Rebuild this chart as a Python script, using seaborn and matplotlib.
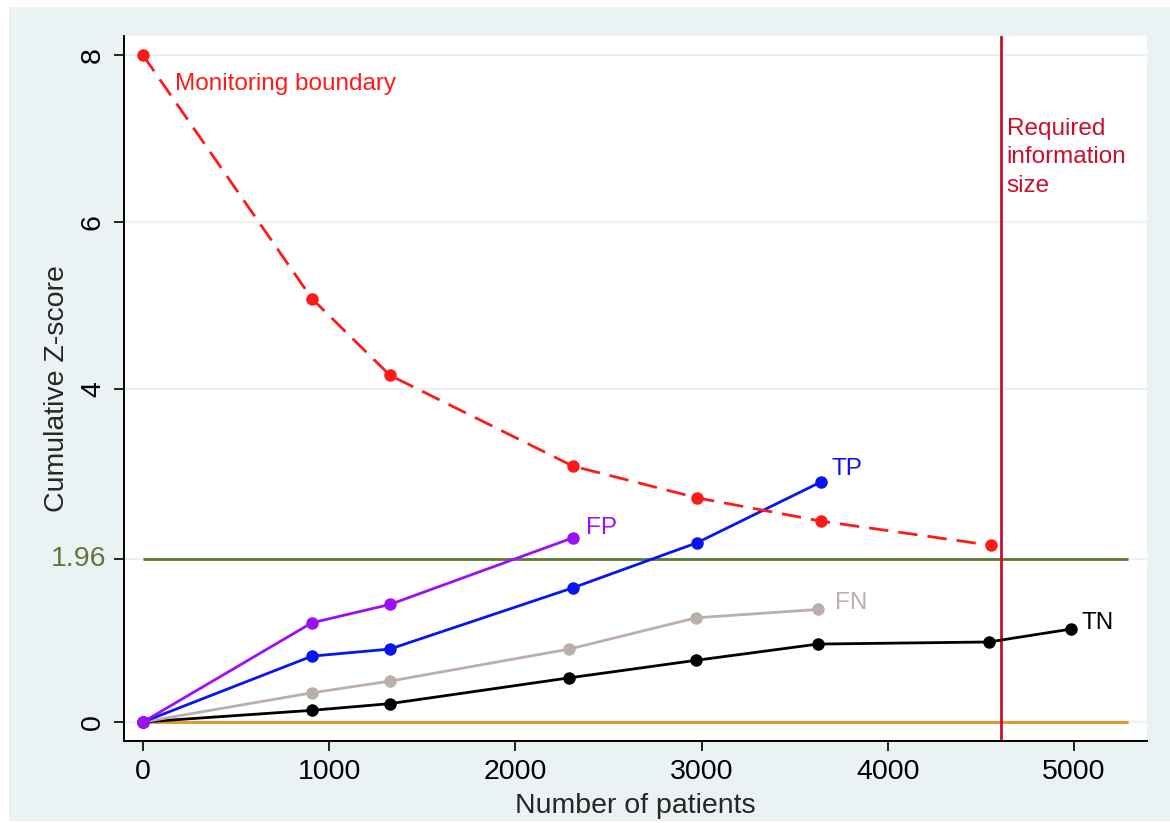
import matplotlib
matplotlib.use("Agg")
import matplotlib.pyplot as plt
import seaborn as sns
import pandas as pd
from matplotlib.patches import Rectangle

# ---- data ----
bound_x = [0, 907, 1326, 2309, 2975, 3641, 4554]
bound_z = [8.0, 5.08, 4.16, 3.07, 2.69, 2.41, 2.12]

tp_x = [0, 907, 1326, 2309, 2975, 3641]
tp_z = [0.0, 0.79, 0.875, 1.61, 2.15, 2.88]

fp_x = [0, 907, 1326, 2309]
fp_z = [0.0, 1.19, 1.41, 2.21]

fn_x = [0, 907, 1326, 2290, 2970, 3625]
fn_z = [0.0, 0.35, 0.49, 0.875, 1.25, 1.35]

tn_x = [0, 907, 1326, 2290, 2970, 3625, 4543, 4984]
tn_z = [0.0, 0.14, 0.22, 0.53, 0.74, 0.935, 0.96, 1.115]

ris_x = 4608          # required information size
sig_z = 1.96
line_end = 5290

xticks = [0, 1000, 2000, 3000, 4000, 5000]
yticks = [0, 1.96, 4, 6, 8]
ytick_labels = ["0", "1.96", "4", "6", "8"]

C_RED = "#FF1A1A"
C_BLUE = "#0A14F0"
C_PURPLE = "#9B10F5"
C_GRAY = "#BDAEAE"
C_BLACK = "#000000"
C_GREEN = "#5B7A3A"
C_ORANGE = "#E8921E"
C_CRIMSON = "#C8102E"
C_BG = "#EAF2F3"

sns.set_theme(style="white")
plt.rcParams["font.family"] = ["Liberation Sans", "DejaVu Sans"]

fig = plt.figure(figsize=(11.7, 8.23), dpi=100)
fig.patch.set_facecolor("white")
fig.patches.append(Rectangle((9 / 1170, 2 / 823), 1 - 9 / 1170, 1 - 9 / 823,
                             transform=fig.transFigure, facecolor=C_BG,
                             edgecolor="none", zorder=-10))
ax = fig.add_axes([124 / 1170, 82 / 823, (1147 - 124) / 1170, (741 - 36) / 823])
ax.set_facecolor("white")

# reference lines
ax.hlines(0, 0, line_end, color=C_ORANGE, lw=2.0, zorder=2)
ax.hlines(sig_z, 0, line_end, color=C_GREEN, lw=2.0, zorder=2)
ax.axvline(ris_x, color=C_CRIMSON, lw=2.0, zorder=2)

def draw(xs, zs, color, dashed=False):
    df = pd.DataFrame({"x": xs, "z": zs})
    sns.lineplot(data=df, x="x", y="z", ax=ax, color=color, lw=2.0,
                 marker="o", markersize=9, markeredgewidth=0,
                 estimator=None, sort=False, zorder=4,
                 linestyle=(0, (7, 3.6)) if dashed else "-")

draw(tn_x, tn_z, C_BLACK)
draw(fn_x, fn_z, C_GRAY)
draw(tp_x, tp_z, C_BLUE)
draw(fp_x, fp_z, C_PURPLE)
draw(bound_x, bound_z, C_RED, dashed=True)

# labels
ax.text(170, 7.66, "Monitoring boundary", color=C_RED, fontsize=17.5, va="center", ha="left")
ax.text(tp_x[-1] + 55, tp_z[-1] + 0.15, "TP", color=C_BLUE, fontsize=17.5, va="center", ha="left")
ax.text(fp_x[-1] + 70, fp_z[-1] + 0.12, "FP", color=C_PURPLE, fontsize=17.5, va="center", ha="left")
ax.text(fn_x[-1] + 90, fn_z[-1] + 0.08, "FN", color=C_GRAY, fontsize=17.5, va="center", ha="left")
ax.text(tn_x[-1] + 55, tn_z[-1] + 0.07, "TN", color=C_BLACK, fontsize=17.5, va="center", ha="left")
ax.text(ris_x + 30, 7.25, "Required\ninformation\nsize", color=C_CRIMSON, fontsize=17.5,
        va="top", ha="left", linespacing=1.4)

# axes
ax.set_xlim(-102, 5392)
ax.set_ylim(-0.228, 8.23)
ax.set_xticks(xticks)
ax.set_xticklabels([str(t) for t in xticks])
ax.set_yticks(yticks)
ax.set_yticklabels(ytick_labels)
ax.yaxis.grid(True, color=C_BG, lw=1.5, zorder=0)
ax.xaxis.grid(False)
ax.set_axisbelow(True)
for s in ["top", "right"]:
    ax.spines[s].set_visible(False)
for s in ["left", "bottom"]:
    ax.spines[s].set_color("black")
    ax.spines[s].set_linewidth(1.4)
ax.tick_params(axis="both", direction="out", length=7, width=1.2, color="black",
               labelsize=20.5, labelcolor="black", pad=6, left=True, bottom=True)
for lab in ax.get_yticklabels():
    if lab.get_text() == "1.96":
        lab.set_color(C_GREEN)
        lab.set_rotation(0)
        lab.set_va("center")
    else:
        lab.set_rotation(90)
        lab.set_va("center")
ax.set_xlabel("Number of patients", fontsize=20.5, labelpad=6)
ax.set_ylabel("Cumulative Z-score", fontsize=20.5)
ax.yaxis.set_label_coords((70 - 124) / 1023, 0.5)

fig.savefig("out.png", dpi=100, facecolor=fig.get_facecolor())
